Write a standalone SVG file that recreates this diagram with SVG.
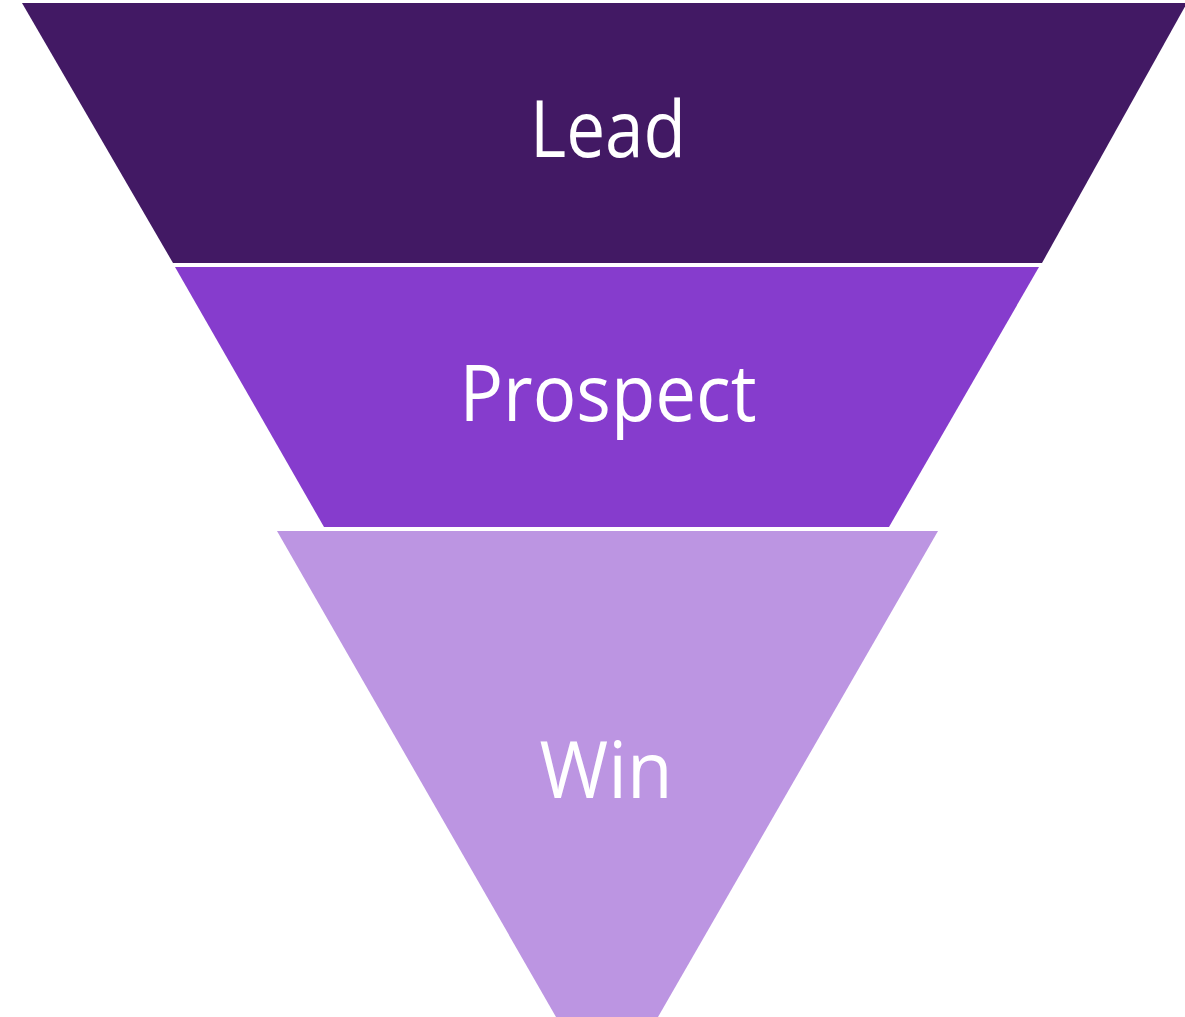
<svg xmlns="http://www.w3.org/2000/svg" width="1185" height="1017" viewBox="0 0 1185 1017">
<style>
.lbl{font-family:"Open Sans","Noto Sans",sans-serif;fill:#ffffff;text-anchor:middle;font-size:78px}
</style>
<rect width="1185" height="1017" fill="#ffffff"/>
<g id="lead">
<polygon points="22,3 1187,3 1042,263 173,263" fill="#421964"/>
<text class="lbl" x="608" y="157" textLength="156" lengthAdjust="spacingAndGlyphs">Lead</text>
</g>
<g id="prospect">
<polygon points="175,267 1039,267 889,527 324,527" fill="#863CCD"/>
<text class="lbl" x="608" y="421" textLength="297" lengthAdjust="spacingAndGlyphs">Prospect</text>
</g>
<g id="win">
<polygon points="277,531 938,531 658,1017 556,1017" fill="#BC95E2"/>
<text class="lbl" x="606" y="798" textLength="133" lengthAdjust="spacingAndGlyphs">Win</text>
</g>
<g id="connectors"/>
</svg>
